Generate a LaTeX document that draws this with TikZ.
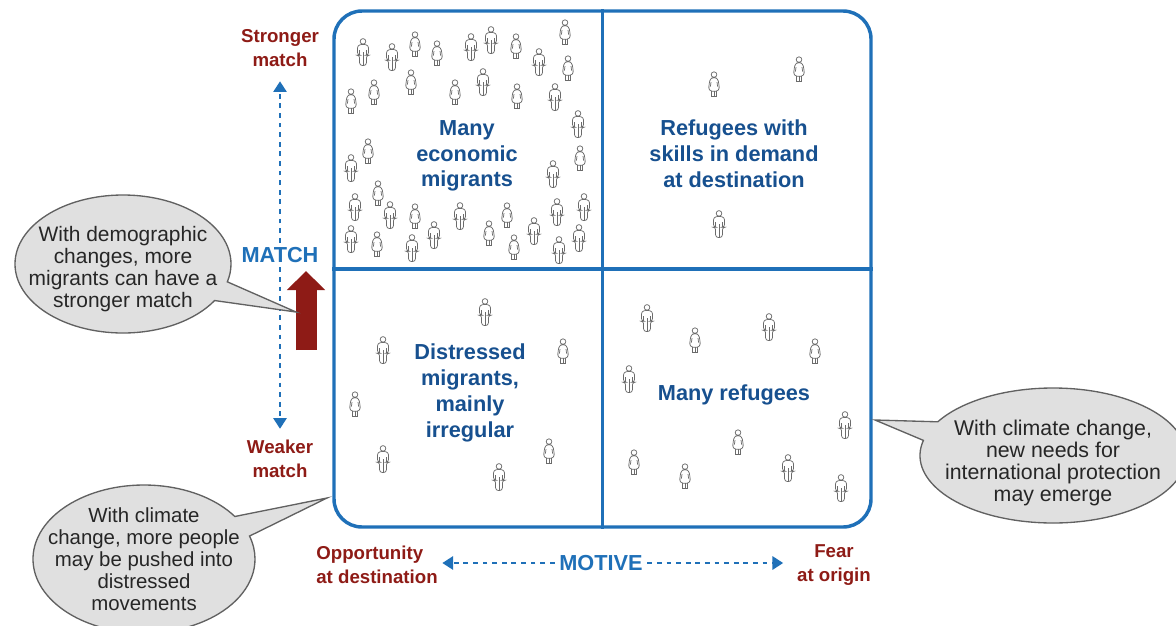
\documentclass[tikz,border=0pt]{standalone}
\usepackage{fontspec}
\setmainfont{Liberation Sans}
\usetikzlibrary{arrows.meta,shapes.callouts}
\definecolor{framecol}{HTML}{1F70B8}
\definecolor{quadcol}{HTML}{17508F}
\definecolor{endcol}{HTML}{8E1B16}
\definecolor{bubblecol}{HTML}{E0E0E0}
\newcommand{\lowerby}[1]{\rule{0pt}{#1}}
\tikzset{
  man/.pic={
    \draw (0,-10.6) circle (2.8);
    \draw[rounded corners=2] (0,-7.8) -- (-5.5,-6.8) -- (-5.5,3.2) -- (-3.4,3.2) -- (-3.4,13.5) -- (3.4,13.5) -- (3.4,3.2) -- (5.5,3.2) -- (5.5,-6.8) -- cycle;
    \draw (0,13.5) -- (0,0) (-3.4,3.2) -- (-3.4,-2) (3.4,3.2) -- (3.4,-2);
  },
  woman/.pic={
    \draw (0,-9.4) circle (2.8);
    \draw[rounded corners=2] (0,-6.6) -- (-3.8,-5.6) -- (-5.3,2.5) -- (-4.6,7.2) -- (4.6,7.2) -- (5.3,2.5) -- (3.8,-5.6) -- cycle;
    \draw (-3.6,2.5) -- (-3,-2) (3.6,2.5) -- (3,-2);
    \draw (-2.4,7.2) -- (-2.4,12.6) -- (2.4,12.6) -- (2.4,7.2) (0,7.2) -- (0,12.6);
  }
}
\begin{document}
\begin{tikzpicture}[x=.75pt,y=-.75pt]
        \tikzstyle{quad} = [font=\bfseries\fontsize{16.3}{19.3}\selectfont, text=quadcol, align=center]
        \tikzstyle{axisend} = [font=\bfseries\fontsize{14}{18}\selectfont, text=endcol, align=center]
        \tikzstyle{axisname} = [font=\bfseries\fontsize{16.3}{19.3}\selectfont, text=framecol]
        \tikzstyle{axisline} = [draw=framecol, line width=1.3pt, dash pattern=on 3.6pt off 3.6pt, -{Triangle[length=8pt,width=10pt]}]
        \tikzstyle{bubble} = [ellipse callout, draw=black!62, line width=1pt, fill=bubblecol, text=black!85,
            callout pointer arc=17, inner xsep=-45pt, inner ysep=-14pt, align=center,
            font=\fontsize{15.7}{16.5}\selectfont]

        \useasboundingbox (0,0) rectangle (1176,625);

        % people
        \begin{scope}[draw=black!58, line width=.55pt]
        \foreach \x/\y in {363/52, 392/57, 471/47, 491/40, 539/62, 483/82, 555/97, 578/124, 351/168, 553/174,
            355/207, 390/215, 460/216, 557/212, 584/207, 351/239, 412/248, 434/235, 534/231, 559/250, 579/238,
            719/224, 485/312, 383/350, 383/459, 499/477, 647/318, 769/327, 629/379, 845/425, 788/468, 841/488}
            \pic at (\x,\y) {man};
        \foreach \x/\y in {415/44, 437/53, 516/46, 565/32, 568/68, 351/101, 374/92, 411/82, 455/92, 517/96,
            368/151, 580/158, 378/193, 415/216, 507/215, 377/244, 489/233, 514/247,
            714/84, 799/69, 563/351, 355/404, 549/451, 695/340, 815/351, 738/442, 634/462, 685/476}
            \pic at (\x,\y) {woman};
        \end{scope}

        % grid
        \node[draw=framecol, line width=2.6pt, rounded corners=21pt, minimum width=402.75pt, minimum height=387pt] (frame) at (602.5,269) {};
        \draw[framecol, line width=2.6pt] (frame.north) -- (frame.south);
        \draw[framecol, line width=2.6pt] (frame.west) -- (frame.east);

        \node[quad] (economic) at (467,156) {Many\\economic\\migrants};
        \node[quad] (skilled) at (734,153.5) {Refugees with\\skills in demand\\at destination};
        \node[quad] (distressed) at (470,393) {Distressed\\migrants,\\mainly\\irregular};
        \node[quad] (refugees) at (734,395) {Many refugees};

        % axes
        \node[axisname] (match) at (280,255) {MATCH};
        \node[axisend] (stronger) at (280,48) {Stronger\\match};
        \node[axisend] (weaker) at (280,459) {Weaker\\match};
        \node[axisname] (motive) at (601,563) {MOTIVE};
        \node[axisend, align=left] (opportunity) at (377,565) {Opportunity\\at destination};
        \node[axisend] (fear) at (834,565) {Fear\\at origin};

        \draw[axisline, shorten >=7.5pt] (match) -- (stronger);
        \draw[axisline, shorten >=5pt] (match) -- (weaker);
        \draw[axisline] (motive.west) -- (motive.west -| opportunity.east);
        \draw[axisline, shorten >=7pt] (motive.east) -- (motive.east -| fear.west);

        % red arrow
        \coordinate (shift0) at (306,350);
        \coordinate (shift1) at (306,271);
        \draw[endcol, line width=15.75pt, -{Triangle[length=14.25pt,width=27.75pt]}] (shift0) -- (shift1);

        % callouts
        \node[bubble, minimum width=162pt, minimum height=103.5pt, callout absolute pointer={(296,312)}] (demographic) at (123,264)
            {\lowerby{19.5pt}With demographic\\changes, more\\migrants can have a\\stronger match};
        \node[bubble, font=\fontsize{15.3}{16.5}\selectfont, minimum width=166.5pt, minimum height=111pt, callout absolute pointer={(327,498)}] (pushed) at (144,559)
            {With climate\\change, more people\\may be pushed into\\distressed\\movements};
        \node[bubble, font=\fontsize{16}{16.5}\selectfont, minimum width=199.5pt, minimum height=101.25pt, callout absolute pointer={(875,420)}] (protection) at (1053,455.5)
            {\lowerby{23pt}With climate change,\\new needs for\\international protection\\may emerge};
      \end{tikzpicture}
\end{document}
